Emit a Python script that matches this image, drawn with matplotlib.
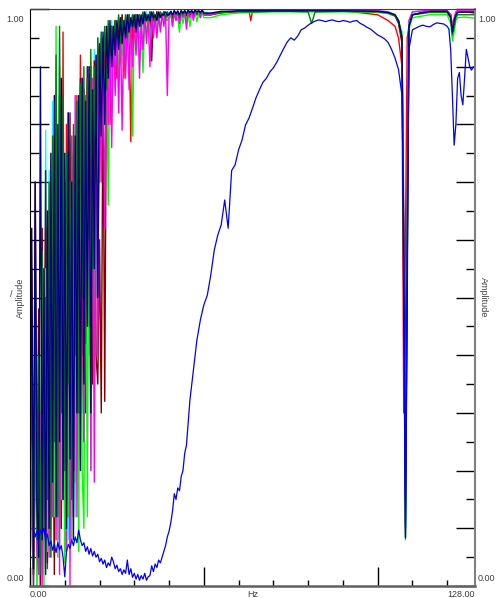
import numpy as np
import matplotlib
matplotlib.use("Agg")
import matplotlib.pyplot as plt

plt.rcParams['font.family'] = ['Liberation Sans', 'DejaVu Sans']

# frequency grid shared by the noisy traces: 0..50 Hz every 0.5 Hz, then sparser
tail_freq = [52, 55, 58, 60, 63, 63.5, 64, 70, 75, 80, 80.5, 81, 81.5, 82, 90, 100,
             103, 105, 106, 107, 107.5, 108, 108.5, 109, 110, 115, 120, 121, 121.5,
             122, 122.5, 123, 125, 128]
freq = np.concatenate([np.arange(0, 50.5, 0.5), tail_freq])

cyan = [
    0.05, 0.42, 0.02, 0.55, 0.00, 0.48, 0.10, 0.60, 0.03, 0.79,
    0.12, 0.72, 0.05, 0.84, 0.20, 0.78, 0.08, 0.95, 0.25, 0.88,
    0.15, 0.70, 0.08, 0.77, 0.25, 0.68, 0.12, 0.74, 0.35, 0.86,
    0.30, 0.84, 0.45, 0.90, 0.40, 0.88, 0.55, 0.93, 0.50, 0.95,
    0.80, 0.96, 0.74, 0.95, 0.86, 0.97, 0.88, 0.98, 0.90, 0.97,
    0.93, 0.98, 0.91, 0.99, 0.94, 0.98, 0.95, 0.99, 0.96, 0.99,
    0.95, 0.99, 0.97, 0.99, 0.96, 0.99, 0.97, 0.995, 0.98, 0.99,
    0.97, 0.995, 0.98, 0.99, 0.985, 0.995, 0.98, 0.995, 0.985, 0.995,
    0.99, 0.995, 0.985, 0.997, 0.99, 0.996, 0.988, 0.997, 0.992, 0.996,
    0.99, 0.997, 0.993, 0.997, 0.99, 0.998, 0.994, 0.997, 0.992, 0.998, 0.995,
    0.992, 0.995, 0.996, 0.997, 0.997, 0.997, 0.997, 0.998, 0.998, 0.998,
    0.998, 0.998, 0.998, 0.998, 0.998, 0.997, 0.995, 0.99, 0.98, 0.95,
    0.60, 0.20, 0.70, 0.98, 0.995, 0.998, 0.997, 0.985, 0.96, 0.975,
    0.99, 0.995, 0.996, 0.995,
]

red = [
    0.00, 0.30, 0.02, 0.45, 0.05, 0.35, 0.00, 0.50, 0.08, 0.62,
    0.03, 0.55, 0.15, 0.70, 0.05, 0.82, 0.20, 0.75, 0.10, 0.96,
    0.25, 0.80, 0.12, 0.72, 0.30, 0.78, 0.20, 0.85, 0.35, 0.92,
    0.48, 0.25, 0.70, 0.88, 0.60, 0.90, 0.55, 0.86, 0.75, 0.93,
    0.70, 0.95, 0.82, 0.94, 0.86, 0.97, 0.80, 0.96, 0.90, 0.98,
    0.88, 0.97, 0.92, 0.98, 0.88, 0.97, 0.95, 0.98, 0.77, 0.99,
    0.95, 0.99, 0.96, 0.98, 0.97, 0.99, 0.96, 0.99, 0.98, 0.99,
    0.97, 0.99, 0.98, 0.995, 0.98, 0.99, 0.985, 0.995, 0.98, 0.99,
    0.99, 0.995, 0.98, 0.995, 0.99, 0.996, 0.985, 0.995, 0.99, 0.996,
    0.975, 0.996, 0.99, 0.996, 0.988, 0.997, 0.99, 0.996, 0.993, 0.997, 0.99,
    0.99, 0.993, 0.995, 0.996, 0.996, 0.98, 0.996, 0.997, 0.997, 0.997,
    0.997, 0.997, 0.997, 0.997, 0.997, 0.99, 0.98, 0.97, 0.95, 0.90,
    0.30, 0.60, 0.95, 0.97, 0.99, 0.997, 0.996, 0.99, 0.97, 0.98,
    0.99, 0.995, 0.995, 0.993,
]

maroon = [
    0.05, 0.55, 0.02, 0.70, 0.10, 0.48, 0.00, 0.62, 0.08, 0.72,
    0.04, 0.65, 0.18, 0.60, 0.02, 0.74, 0.15, 0.85, 0.10, 0.80,
    0.06, 0.70, 0.25, 0.82, 0.12, 0.75, 0.30, 0.78, 0.22, 0.88,
    0.40, 0.86, 0.30, 0.90, 0.45, 0.84, 0.35, 0.91, 0.40, 0.35,
    0.60, 0.30, 0.88, 0.32, 0.92, 0.96, 0.85, 0.97, 0.90, 0.98,
    0.92, 0.98, 0.94, 0.99, 0.93, 0.98, 0.95, 0.99, 0.96, 0.98,
    0.96, 0.99, 0.95, 0.99, 0.97, 0.99, 0.97, 0.99, 0.97, 0.995,
    0.91, 0.99, 0.97, 0.995, 0.98, 0.99, 0.985, 0.995, 0.98, 0.99,
    0.99, 0.995, 0.985, 0.996, 0.99, 0.995, 0.98, 0.996, 0.99, 0.997,
    0.988, 0.996, 0.992, 0.997, 0.985, 0.996, 0.993, 0.997, 0.99, 0.996, 0.99,
    0.99, 0.994, 0.995, 0.996, 0.996, 0.996, 0.996, 0.997, 0.997, 0.997,
    0.997, 0.997, 0.997, 0.997, 0.997, 0.996, 0.993, 0.988, 0.975, 0.94,
    0.65, 0.35, 0.65, 0.97, 0.99, 0.996, 0.996, 0.99, 0.965, 0.98,
    0.99, 0.994, 0.995, 0.994,
]

green = [
    0.00, 0.25, 0.03, 0.35, 0.00, 0.30, 0.05, 0.45, 0.00, 0.55,
    0.06, 0.50, 0.10, 0.75, 0.12, 0.97, 0.05, 0.90, 0.15, 0.70,
    0.04, 0.60, 0.12, 0.65, 0.08, 0.70, 0.18, 0.72, 0.06, 0.80,
    0.20, 0.10, 0.75, 0.12, 0.82, 0.20, 0.85, 0.35, 0.88, 0.50,
    0.90, 0.75, 0.93, 0.80, 0.95, 0.66, 0.96, 0.85, 0.97, 0.90,
    0.96, 0.88, 0.97, 0.92, 0.98, 0.90, 0.97, 0.94, 0.98, 0.78,
    0.97, 0.93, 0.98, 0.95, 0.97, 0.89, 0.98, 0.96, 0.99, 0.95,
    0.98, 0.97, 0.99, 0.96, 0.985, 0.97, 0.99, 0.98, 0.99, 0.98,
    0.985, 0.99, 0.97, 0.99, 0.98, 0.985, 0.96, 0.99, 0.975, 0.99,
    0.98, 0.992, 0.97, 0.99, 0.985, 0.993, 0.978, 0.992, 0.985, 0.993, 0.985,
    0.985, 0.99, 0.992, 0.993, 0.994, 0.994, 0.994, 0.995, 0.995, 0.995,
    0.995, 0.995, 0.995, 0.995, 0.995, 0.994, 0.992, 0.988, 0.98, 0.96,
    0.55, 0.08, 0.55, 0.965, 0.985, 0.99, 0.99, 0.975, 0.945, 0.96,
    0.98, 0.985, 0.986, 0.984,
]

magenta = [
    0.03, 0.20, 0.00, 0.28, 0.06, 0.02, 0.30, 0.00, 0.40, 0.08,
    0.50, 0.05, 0.60, 0.12, 0.70, 0.08, 0.75, 0.02, 0.80, 0.15,
    0.70, 0.06, 0.82, 0.00, 0.78, 0.20, 0.85, 0.12, 0.80, 0.30,
    0.88, 0.25, 0.85, 0.45, 0.90, 0.20, 0.88, 0.18, 0.92, 0.40,
    0.93, 0.70, 0.95, 0.62, 0.96, 0.80, 0.95, 0.76, 0.97, 0.85,
    0.97, 0.82, 0.98, 0.79, 0.97, 0.88, 0.98, 0.86, 0.98, 0.90,
    0.98, 0.92, 0.99, 0.88, 0.98, 0.93, 0.99, 0.94, 0.985, 0.90,
    0.99, 0.95, 0.985, 0.95, 0.99, 0.96, 0.99, 0.97, 0.99, 0.85,
    0.99, 0.995, 0.97, 0.996, 0.98, 0.997, 0.975, 0.996, 0.985, 0.997,
    0.965, 0.997, 0.985, 0.998, 0.98, 0.997, 0.99, 0.998, 0.985, 0.998, 0.99,
    0.99, 0.995, 0.996, 0.997, 0.998, 0.998, 0.998, 0.998, 0.998, 0.998,
    0.998, 0.998, 0.998, 0.998, 0.998, 0.997, 0.995, 0.99, 0.98, 0.95,
    0.60, 0.15, 0.65, 0.98, 0.995, 0.998, 0.998, 0.99, 0.97, 0.985,
    0.995, 0.998, 0.998, 0.998,
]

dkgreen = [
    0.05, 0.45, 0.00, 0.52, 0.08, 0.40, 0.02, 0.58, 0.10, 0.50,
    0.15, 0.70, 0.05, 0.78, 0.25, 0.92, 0.12, 0.97, 0.30, 0.85,
    0.20, 0.75, 0.35, 0.70, 0.15, 0.80, 0.40, 0.84, 0.30, 0.87,
    0.50, 0.90, 0.42, 0.88, 0.60, 0.93, 0.55, 0.90, 0.70, 0.95,
    0.85, 0.96, 0.88, 0.97, 0.86, 0.98, 0.92, 0.97, 0.93, 0.98,
    0.95, 0.99, 0.94, 0.98, 0.96, 0.99, 0.95, 0.99, 0.97, 0.99,
    0.97, 0.99, 0.98, 0.99, 0.97, 0.995, 0.98, 0.99, 0.98, 0.995,
    0.985, 0.995, 0.98, 0.99, 0.985, 0.995, 0.99, 0.995, 0.985, 0.995,
    0.99, 0.995, 0.988, 0.996, 0.99, 0.995, 0.985, 0.996, 0.99, 0.996,
    0.992, 0.997, 0.99, 0.996, 0.993, 0.997, 0.99, 0.996, 0.994, 0.997, 0.992,
    0.992, 0.994, 0.995, 0.995, 0.995, 0.995, 0.995, 0.996, 0.996, 0.995,
    0.985, 0.975, 0.985, 0.995, 0.996, 0.995, 0.993, 0.988, 0.978, 0.95,
    0.55, 0.10, 0.60, 0.97, 0.99, 0.994, 0.994, 0.985, 0.955, 0.97,
    0.985, 0.99, 0.99, 0.99,
]

navy = [
    0.10, 0.62, 0.03, 0.70, 0.15, 0.05, 0.90, 0.08, 0.55, 0.02,
    0.65, 0.10, 0.75, 0.18, 0.85, 0.12, 0.80, 0.25, 0.88, 0.15,
    0.75, 0.10, 0.82, 0.22, 0.70, 0.08, 0.78, 0.30, 0.85, 0.20,
    0.88, 0.35, 0.84, 0.45, 0.90, 0.30, 0.86, 0.55, 0.92, 0.50,
    0.94, 0.78, 0.96, 0.80, 0.97, 0.88, 0.98, 0.90, 0.97, 0.92,
    0.98, 0.93, 0.985, 0.94, 0.98, 0.95, 0.99, 0.96, 0.985, 0.97,
    0.99, 0.96, 0.99, 0.97, 0.99, 0.975, 0.995, 0.98, 0.99, 0.98,
    0.995, 0.985, 0.99, 0.98, 0.995, 0.985, 0.99, 0.99, 0.995, 0.99,
    0.99, 0.996, 0.99, 0.997, 0.992, 0.996, 0.99, 0.997, 0.993, 0.997,
    0.992, 0.998, 0.994, 0.997, 0.993, 0.998, 0.995, 0.997, 0.994, 0.998, 0.993,
    0.993, 0.996, 0.996, 0.997, 0.997, 0.997, 0.997, 0.997, 0.997, 0.997,
    0.997, 0.997, 0.997, 0.997, 0.997, 0.996, 0.994, 0.99, 0.98, 0.95,
    0.50, 0.085, 0.50, 0.97, 0.99, 0.996, 0.996, 0.985, 0.96, 0.98,
    0.99, 0.994, 0.995, 0.995,
]

# the smoother blue trace
blue_freq = np.concatenate([np.arange(1, 45, 0.5), np.arange(45, 108, 1.0),
                            [107.5, 108, 108.5], np.arange(109, 121, 1.0),
                            np.arange(120.5, 128.5, 0.5)])
blue = [
    0.10, 0.085, 0.095, 0.08, 0.097, 0.09, 0.10, 0.082, 0.09, 0.07,
    0.078, 0.062, 0.072, 0.058, 0.075, 0.063, 0.07, 0.05, 0.016, 0.06,
    0.072, 0.065, 0.08, 0.07, 0.085, 0.075, 0.097, 0.08, 0.07, 0.075,
    0.06, 0.068, 0.055, 0.065, 0.052, 0.06, 0.05, 0.055, 0.042, 0.048,
    0.038, 0.045, 0.032, 0.04, 0.035, 0.05, 0.042, 0.03, 0.036, 0.025,
    0.03, 0.02, 0.028, 0.022, 0.045, 0.02, 0.03, 0.015, 0.022, 0.012,
    0.02, 0.01, 0.018, 0.012, 0.022, 0.01, 0.016, 0.018, 0.035, 0.025,
    0.038, 0.032, 0.045, 0.04, 0.05, 0.06, 0.07, 0.085, 0.095, 0.11,
    0.13, 0.16, 0.15, 0.17, 0.165, 0.19, 0.20, 0.23,
    # 45..107 Hz
    0.244, 0.322, 0.374, 0.426, 0.461, 0.487, 0.504, 0.539, 0.582, 0.608,
    0.626, 0.669, 0.62, 0.72, 0.730, 0.756, 0.773, 0.799, 0.811, 0.828,
    0.846, 0.860, 0.873, 0.880, 0.891, 0.898, 0.908, 0.920, 0.932, 0.943,
    0.950, 0.946, 0.953, 0.964, 0.967, 0.972, 0.976, 0.979, 0.981, 0.980,
    0.978, 0.980, 0.981, 0.979, 0.978, 0.980, 0.979, 0.977, 0.979, 0.980,
    0.975, 0.972, 0.968, 0.965, 0.96, 0.955, 0.952, 0.948, 0.942, 0.93,
    0.915, 0.895, 0.85,
    # notch
    0.60, 0.083, 0.55,
    # 109..120 Hz
    0.93, 0.964, 0.967, 0.97, 0.972, 0.97, 0.969, 0.973, 0.976, 0.975,
    0.974, 0.97,
    # 120.5..128 Hz
    0.965, 0.93, 0.85, 0.764, 0.80, 0.88, 0.89, 0.85, 0.834, 0.88,
    0.93, 0.915, 0.90, 0.894, 0.90, 0.90,
]

series = [(cyan, '#00ffff'), (red, '#ff0000'), (maroon, '#800000'),
          (green, '#00ff00'), (magenta, '#ff00ff'), (dkgreen, '#008000'),
          (navy, '#000080')]

fig = plt.figure(figsize=(4.96, 5.98), dpi=100)
ax = fig.add_axes([30 / 496, 12 / 598, 445 / 496, 577 / 598])

for vals, col in series:
    ax.plot(freq, vals, color=col, lw=1.0)
ax.plot(blue_freq, blue, color='#0000ff', lw=0.9)

ax.set_xlim(0, 128)
ax.set_ylim(0, 1)

ax.set_yticks(np.arange(0, 1.01, 0.1))
ax.set_yticks(np.arange(0.05, 1.0, 0.1), minor=True)
ax.set_xticks([0, 50, 100])
ax.set_xticks(np.arange(10, 128, 10), minor=True)
ax.tick_params(which='both', direction='in', labelleft=False, labelbottom=False,
               left=True, right=True, bottom=True, top=False, width=1, color='black')
ax.tick_params(axis='y', which='major', length=14)
ax.tick_params(axis='y', which='minor', length=6.5)
ax.tick_params(axis='x', which='major', length=14)
ax.tick_params(axis='x', which='minor', length=4)

ax.spines['left'].set_color('black')
ax.spines['top'].set_color('#404040')
ax.spines['right'].set_color('#808080')
ax.spines['right'].set_linewidth(1.5)
ax.spines['bottom'].set_color('#606060')
ax.spines['bottom'].set_linewidth(1.8)

tc = '#404040'
fs = 6.5
xt = ax.get_xaxis_transform()
ax.text(-0.014, 0.99, '1.00', transform=ax.transAxes, ha='right', va='top', fontsize=fs, color=tc)
ax.text(-0.014, 0.005, '0.00', transform=ax.transAxes, ha='right', va='bottom', fontsize=fs, color=tc)
ax.text(1.007, 0.99, '1.00', transform=ax.transAxes, ha='left', va='top', fontsize=fs, color=tc)
ax.text(1.005, 0.005, '0.00', transform=ax.transAxes, ha='left', va='bottom', fontsize=fs, color=tc)
ax.text(0, -0.007, '0.00', transform=xt, ha='left', va='top', fontsize=fs, color=tc)
ax.text(128, -0.007, '128.00', transform=xt, ha='right', va='top', fontsize=fs, color=tc)
ax.text(0.5, -0.007, 'Hz', transform=ax.transAxes, ha='center', va='top', fontsize=fs, color=tc)
ax.text(-0.022, 0.5, 'Amplitude', transform=ax.transAxes, rotation=90,
        ha='center', va='center', fontsize=fs, color=tc)
ax.text(-0.043, 0.505, '/', transform=ax.transAxes, ha='center', va='center',
        fontsize=fs, color=tc)
ax.text(1.018, 0.5, 'Amplitude', transform=ax.transAxes, rotation=270,
        ha='center', va='center', fontsize=fs, color=tc)

fig.savefig('out.png', dpi=100)
